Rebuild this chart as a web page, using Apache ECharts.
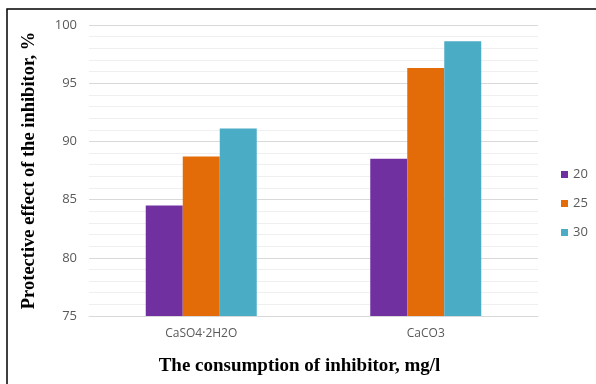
<!DOCTYPE html>
<html><head><meta charset="utf-8">
<script src="https://cdn.jsdelivr.net/npm/echarts@6/dist/echarts.min.js"></script>
<style>html,body{margin:0;padding:0;background:#fff}#c{width:596px;height:384px}</style>
</head><body><div id="c"></div>
<script>
const categories = ['CaSO4·2H2O', 'CaCO3'];
const seriesNames = ['20', '25', '30'];
const values20 = [84.5, 88.5];
const values25 = [88.7, 96.3];
const values30 = [91.1, 98.6];
const yTicks = [75, 80, 85, 90, 95, 100];

const colors = ['#7030A0', '#E36C09', '#4BACC6'];
const data = [values20, values25, values30];
const chart = echarts.init(document.getElementById('c'));
chart.setOption({
  animation: false,
  graphic: [{type: 'rect', shape: {x: 7, y: 9, width: 620, height: 420}, style: {fill: 'none', stroke: '#000', lineWidth: 1.5}}],
  legend: {
    orient: 'vertical', left: 556, top: 163, itemWidth: 7, itemHeight: 7, itemGap: 16,
    icon: 'rect', textStyle: {color: '#595959', fontSize: 13, fontFamily: 'Open Sans'},
    data: seriesNames
  },
  grid: {left: 89, right: 58, top: 25, bottom: 68},
  xAxis: {
    type: 'category', data: categories,
    name: 'The consumption of inhibitor, mg/l', nameLocation: 'middle', nameGap: 41,
    nameTextStyle: {fontFamily: 'Liberation Serif', fontWeight: 'bold', fontSize: 19, color: '#000', padding: [0, 28, 0, 0]},
    axisLine: {lineStyle: {color: '#d9d9d9'}}, axisTick: {show: false},
    axisLabel: {color: '#595959', fontSize: 12, fontFamily: 'Open Sans', margin: 12}
  },
  yAxis: {
    type: 'value', min: yTicks[0], max: yTicks[yTicks.length - 1], interval: 5,
    name: 'Protective effect of the inhibitor, %', nameLocation: 'middle', nameGap: 50,
    nameTextStyle: {fontFamily: 'Liberation Serif', fontWeight: 'bold', fontSize: 18.5, color: '#000'},
    axisLine: {show: false}, axisTick: {show: false},
    axisLabel: {color: '#595959', fontSize: 13, fontFamily: 'Open Sans', margin: 12},
    splitLine: {lineStyle: {color: '#d9d9d9'}},
    minorTick: {show: false, splitNumber: 5},
    minorSplitLine: {show: true, lineStyle: {color: '#efefef'}}
  },
  series: seriesNames.map((n, i) => ({
    name: n, type: 'bar', data: data[i], barWidth: 37, barGap: '0%',
    itemStyle: {color: colors[i]}
  }))
});
</script></body></html>
